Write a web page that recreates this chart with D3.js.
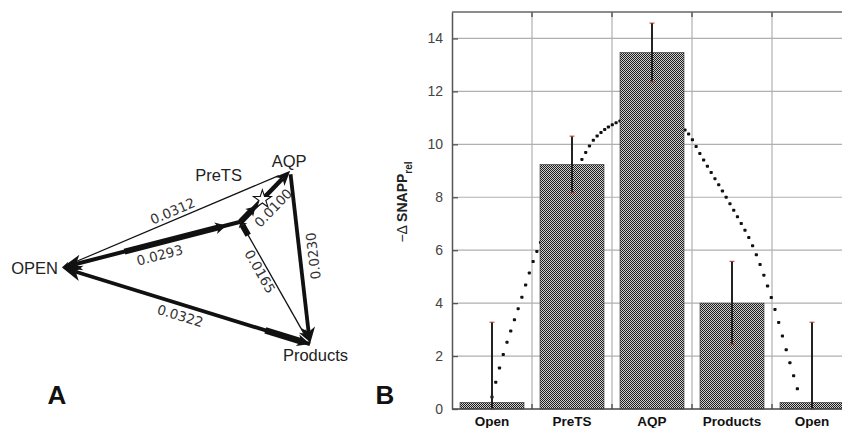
<!DOCTYPE html>
<html>
<head>
<meta charset="utf-8">
<script src="https://cdn.jsdelivr.net/npm/d3@7"></script>
<style>
  html, body { margin: 0; padding: 0; background: #fff; }
  svg { display: block; }
</style>
</head>
<body>
<svg id="chart" width="842" height="428"></svg>
<script>
// ---- panel B data ----
var categories = ['Open', 'PreTS', 'AQP', 'Products', 'Open'];
var snappValues = [0.25, 9.24, 13.47, 4.0, 0.25];
var errLow = [0, 8.17, 12.36, 2.45, 0];
var errHigh = [3.28, 10.31, 14.58, 5.58, 3.28];
var yTicks = [0, 2, 4, 6, 8, 10, 12, 14];
// dotted fit curve, x measured in category positions (0 = first Open)
var fitX = [0, 0.14, 0.35, 0.58, 1.1, 1.31, 1.6, 2.0, 2.4, 2.64, 3.08, 3.26, 3.5, 3.69, 3.85];
var fitY = [0.45, 2.05, 4.0, 6.1, 9.3, 10.3, 10.88, 11.1, 10.57, 9.43, 7.2, 6.15, 4.13, 2.1, 0.42];

// ---- panel A data ----
var nodeNames = ['OPEN', 'PreTS', 'AQP', 'Products'];
var nodeX = [0, 72, 92, 100];     // layout units 0..100
var nodeY = [56, 30, 1, 99.5];
var edgeA = ['OPEN', 'OPEN', 'PreTS', 'Products', 'PreTS', 'OPEN'];
var edgeB = ['AQP', 'PreTS', 'AQP', 'AQP', 'Products', 'Products'];
var edgeLabels = ['0.0312', '0.0293', '0.0100', '0.0230', '0.0165', '0.0322'];
var flowFrom = ['AQP', 'PreTS', 'OPEN', 'PreTS', 'PreTS', 'AQP', 'PreTS', 'Products', 'Products', 'OPEN'];
var flowTo = ['OPEN', 'OPEN', 'PreTS', 'AQP', 'AQP', 'Products', 'Products', 'PreTS', 'OPEN', 'Products'];
var flowWeight = [1.2, 4, 6, 4.5, 6, 3.8, 1.3, 6, 3.8, 6.5];

var svg = d3.select('#chart');
var ink = '#111';

// =========== panel A ===========
(function () {
  var sx = d3.scaleLinear().domain([0, 100]).range([62, 310]);
  var sy = d3.scaleLinear().domain([0, 100]).range([169, 345]);
  var w = d3.scaleLinear().domain([0, 6]).range([0, 6]);
  var pos = {};
  nodeNames.forEach(function (n, i) { pos[n] = [sx(nodeX[i]), sy(nodeY[i])]; });

  // segment span along from->to, arrow head length / half width
  var span = [[0.05, 1], [0, 1], [0.35, 0.92], [0, 1], [0, 0.3], [0.02, 1], [0.08, 0.97], [0.89, 1], [0, 1], [0.82, 1]];
  var heads = [[8, 3], [20, 8], [11, 6], [15, 6.5], [9, 5.5], [17, 7], [11, 4], [5, 5], [20, 8], [13, 6]];

  var g = svg.append('g');
  flowFrom.forEach(function (f, i) {
    var a = pos[f], b = pos[flowTo[i]];
    var dx = b[0] - a[0], dy = b[1] - a[1], len = Math.hypot(dx, dy);
    var ux = dx / len, uy = dy / len, nx = -uy, ny = ux;
    var x1 = a[0] + dx * span[i][0], y1 = a[1] + dy * span[i][0];
    var x2 = a[0] + dx * span[i][1], y2 = a[1] + dy * span[i][1];
    var L = heads[i][0], W = heads[i][1];
    var bx = x2 - L * ux, by = y2 - L * uy;
    var mx = x2 - 0.72 * L * ux, my = y2 - 0.72 * L * uy;
    g.append('line')
      .attr('x1', x1).attr('y1', y1).attr('x2', mx).attr('y2', my)
      .attr('stroke', ink).attr('stroke-width', w(flowWeight[i]));
    g.append('path')
      .attr('d', 'M' + x2 + ',' + y2 + 'L' + (bx + W * nx) + ',' + (by + W * ny) +
        'L' + mx + ',' + my + 'L' + (bx - W * nx) + ',' + (by - W * ny) + 'Z')
      .attr('fill', ink);
  });

  // transition-state star
  var pa = pos.PreTS, pb = pos.AQP;
  g.append('path')
    .attr('d', d3.symbol(d3.symbolStar).size(100)())
    .attr('transform', 'translate(' + (pa[0] + (pb[0] - pa[0]) * 0.44) + ',' + (pa[1] + (pb[1] - pa[1]) * 0.44) + ')')
    .attr('fill', '#fff').attr('stroke', ink).attr('stroke-width', 1.1);

  // edge labels: fraction along edge, perpendicular offset
  var lab = [[0.5, -9], [0.53, 12], [0.46, 13.5], [0.5, 13], [0.375, 7.5], [0.49, 11]];
  edgeLabels.forEach(function (t, i) {
    var a = pos[edgeA[i]], b = pos[edgeB[i]];
    var dx = b[0] - a[0], dy = b[1] - a[1], len = Math.hypot(dx, dy);
    var ux = dx / len, uy = dy / len;
    var cx = a[0] + dx * lab[i][0] - uy * lab[i][1];
    var cy = a[1] + dy * lab[i][0] + ux * lab[i][1];
    var ang = Math.atan2(uy, ux) * 180 / Math.PI;
    g.append('text')
      .attr('transform', 'translate(' + cx + ',' + cy + ') rotate(' + ang + ')')
      .attr('text-anchor', 'middle').attr('dominant-baseline', 'central')
      .attr('font-family', 'DejaVu Sans, sans-serif').attr('font-size', 13.5)
      .attr('fill', '#333').text(t);
  });

  // node labels
  var nl = [[-4, 0, 'end', 'central'], [-22, -41, 'middle', 'auto'], [-1, -4, 'middle', 'auto'], [5.5, 17, 'middle', 'auto']];
  nodeNames.forEach(function (n, i) {
    g.append('text')
      .attr('x', pos[n][0] + nl[i][0]).attr('y', pos[n][1] + nl[i][1])
      .attr('text-anchor', nl[i][2]).attr('dominant-baseline', nl[i][3])
      .attr('font-family', 'Liberation Sans, Arial, sans-serif').attr('font-size', 16.5)
      .attr('fill', '#222').text(n);
  });

  g.append('text').attr('x', 57).attr('y', 404).attr('text-anchor', 'middle')
    .attr('font-family', 'Liberation Sans, Arial, sans-serif').attr('font-weight', 'bold')
    .attr('font-size', 26).attr('fill', ink).text('A');
})();

// =========== panel B ===========
(function () {
  var left = 452, right = 852, top = 12, bottom = 409;
  var x = d3.scaleBand().domain(d3.range(categories.length)).range([left, right]).padding(0);
  var xu = d3.scaleLinear().domain([-0.5, categories.length - 0.5]).range([left, right]);
  var y = d3.scaleLinear().domain([0, 15]).range([bottom, top]);
  var barW = x.bandwidth() * 0.8;

  var defs = svg.append('defs');
  var pat = defs.append('pattern').attr('id', 'checker').attr('patternUnits', 'userSpaceOnUse')
    .attr('width', 2).attr('height', 2);
  pat.append('rect').attr('width', 2).attr('height', 2).attr('fill', '#d0d0d0');
  pat.append('rect').attr('width', 1).attr('height', 1).attr('fill', '#1c1c1c');
  pat.append('rect').attr('x', 1).attr('y', 1).attr('width', 1).attr('height', 1).attr('fill', '#1c1c1c');
  defs.append('clipPath').attr('id', 'plotclip').append('rect')
    .attr('x', left).attr('y', top - 2).attr('width', 842 - left).attr('height', bottom - top + 4);

  var g = svg.append('g');
  var grid = '#b0b0b0';

  // horizontal grid
  g.selectAll('line.hg').data(yTicks.filter(function (d) { return d > 0; })).enter().append('line')
    .attr('x1', left).attr('x2', 842).attr('y1', function (d) { return y(d); }).attr('y2', function (d) { return y(d); })
    .attr('stroke', grid).attr('stroke-width', 1.2);
  // vertical grid at category boundaries
  var bounds = d3.range(1, categories.length).map(function (i) { return x(i); });
  g.selectAll('line.vg').data(bounds).enter().append('line')
    .attr('x1', function (d) { return d; }).attr('x2', function (d) { return d; })
    .attr('y1', top).attr('y2', bottom).attr('stroke', grid).attr('stroke-width', 1.2);
  g.selectAll('line.vt').data(bounds).enter().append('line')
    .attr('x1', function (d) { return d; }).attr('x2', function (d) { return d; })
    .attr('y1', top).attr('y2', top + 5).attr('stroke', '#555').attr('stroke-width', 1.4);
  g.selectAll('line.vb').data(bounds).enter().append('line')
    .attr('x1', function (d) { return d; }).attr('x2', function (d) { return d; })
    .attr('y1', bottom - 5).attr('y2', bottom).attr('stroke', '#555').attr('stroke-width', 1.4);

  // dotted fit curve (behind bars), markers at even x steps
  var pts = fitX.map(function (u, i) { return [xu(u), y(fitY[i])]; });
  var tmp = g.append('path').attr('d', d3.line().curve(d3.curveCatmullRom.alpha(0.5))(pts))
    .attr('fill', 'none').attr('stroke', 'none');
  var node = tmp.node(), total = node.getTotalLength();
  var dots = [], nextX = pts[0][0];
  for (var s = 0; s <= total; s += 0.25) {
    var p = node.getPointAtLength(s);
    if (p.x >= nextX) { dots.push([p.x, p.y]); nextX = p.x + 3.7; }
  }
  tmp.remove();
  g.selectAll('rect.fit').data(dots).enter().append('rect')
    .attr('x', function (d) { return d[0] - 1.6; }).attr('y', function (d) { return d[1] - 1.5; })
    .attr('width', 3.2).attr('height', 3).attr('rx', 0.8).attr('fill', ink);

  // bars
  g.append('g').attr('clip-path', 'url(#plotclip)')
    .selectAll('rect').data(snappValues).enter().append('rect')
    .attr('x', function (d, i) { return x(i) + (x.bandwidth() - barW) / 2; })
    .attr('width', barW)
    .attr('y', function (d) { return y(d); })
    .attr('height', function (d) { return y(0) - y(d); })
    .attr('fill', 'url(#checker)').attr('stroke', '#333').attr('stroke-width', 0.6);

  // error bars
  var cx = function (i) { return x(i) + x.bandwidth() / 2; };
  g.selectAll('line.err').data(snappValues).enter().append('line')
    .attr('x1', function (d, i) { return cx(i); }).attr('x2', function (d, i) { return cx(i); })
    .attr('y1', function (d, i) { return y(errLow[i]); }).attr('y2', function (d, i) { return y(errHigh[i]); })
    .attr('stroke', '#222').attr('stroke-width', 2);
  [errLow, errHigh].forEach(function (arr) {
    g.selectAll(null).data(arr).enter().append('line')
      .attr('x1', function (d, i) { return cx(i) - 2.5; }).attr('x2', function (d, i) { return cx(i) + 2.5; })
      .attr('y1', function (d) { return y(d); }).attr('y2', function (d) { return y(d); })
      .attr('stroke', '#b33').attr('stroke-width', 1);
  });

  // frame
  g.append('line').attr('x1', left).attr('x2', 842).attr('y1', top).attr('y2', top)
    .attr('stroke', '#666').attr('stroke-width', 1.6);
  g.append('line').attr('x1', left).attr('x2', 842).attr('y1', bottom).attr('y2', bottom)
    .attr('stroke', '#444').attr('stroke-width', 1.4);

  // y axis with inward ticks
  var yAxis = g.append('g').attr('transform', 'translate(' + left + ',0)')
    .call(d3.axisLeft(y).tickValues(yTicks).tickSizeInner(-6).tickSizeOuter(0).tickPadding(10));
  yAxis.select('.domain').attr('stroke', '#555').attr('stroke-width', 1.5);
  yAxis.selectAll('.tick line').attr('stroke', '#555').attr('stroke-width', 1.3);
  yAxis.selectAll('.tick text').attr('font-family', 'Liberation Sans, Arial, sans-serif')
    .attr('font-size', 14).attr('fill', '#444');
  yAxis.selectAll('.tick text').attr('x', -9);

  // category labels
  g.selectAll('text.cat').data(categories).enter().append('text')
    .attr('x', function (d, i) { return cx(i); }).attr('y', 421)
    .attr('text-anchor', 'middle').attr('dominant-baseline', 'central')
    .attr('font-family', 'Liberation Sans, Arial, sans-serif').attr('font-weight', 'bold')
    .attr('font-size', 13.5).attr('fill', ink).text(function (d) { return d; });

  // y title
  var t = g.append('text').attr('transform', 'translate(407,202) rotate(-90)')
    .attr('text-anchor', 'middle')
    .attr('font-family', 'Liberation Sans, Arial, sans-serif').attr('font-weight', 'bold')
    .attr('font-size', 14).attr('fill', '#222');
  t.append('tspan').attr('font-weight', 'normal').text('\u2212\u0394 ');
  t.append('tspan').text('SNAPP');
  t.append('tspan').attr('font-size', 10).attr('dy', 5).text('rel');

  g.append('text').attr('x', 385).attr('y', 404).attr('text-anchor', 'middle')
    .attr('font-family', 'Liberation Sans, Arial, sans-serif').attr('font-weight', 'bold')
    .attr('font-size', 26).attr('fill', ink).text('B');
})();
</script>
</body>
</html>
